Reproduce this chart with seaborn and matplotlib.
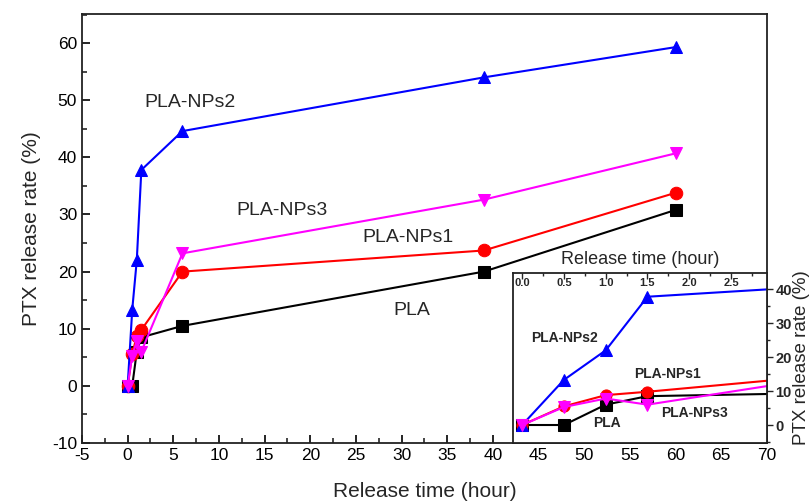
import numpy as np
import pandas as pd
import matplotlib
matplotlib.use("Agg")
import matplotlib.pyplot as plt
from matplotlib.ticker import MultipleLocator
import seaborn as sns

# release time (hour)
time_h = [0, 0.5, 1.0, 1.5, 6, 39, 60]

# PTX release rate (%)
pla = [0, 0, 6.0, 8.5, 10.5, 20.0, 30.8]
pla_nps1 = [0, 5.5, 8.8, 9.8, 20.0, 23.7, 33.8]
pla_nps2 = [0, 13.3, 22.0, 37.8, 44.6, 54.0, 59.3]
pla_nps3 = [0, 5.3, 7.8, 6.0, 23.2, 32.6, 40.7]

series_names = ["PLA", "PLA-NPs1", "PLA-NPs2", "PLA-NPs3"]
series_vals = [pla, pla_nps1, pla_nps2, pla_nps3]
colors = ["black", "#ff0000", "#0000ff", "#ff00ff"]
markers = ["s", "o", "^", "v"]


def draw_series(ax, msize):
    for name, vals, c, m in zip(series_names, series_vals, colors, markers):
        df = pd.DataFrame({"time": time_h, "rate": vals})
        sns.lineplot(data=df, x="time", y="rate", ax=ax, color=c, marker=m,
                     markersize=msize, markeredgecolor=c, linewidth=1.5,
                     sort=False)


sns.set_style("ticks")
plt.rcParams["font.family"] = ["Liberation Sans", "DejaVu Sans"]
plt.rcParams["axes.unicode_minus"] = False

fig = plt.figure(figsize=(8.11, 5.03), dpi=100)
ax = fig.add_axes([0.1011, 0.1193, 0.8446, 0.8529])
draw_series(ax, 9)

ax.set_xlim(-5, 70)
ax.set_ylim(-10, 65.1)
ax.xaxis.set_major_locator(MultipleLocator(5))
ax.xaxis.set_minor_locator(MultipleLocator(2.5))
ax.yaxis.set_major_locator(MultipleLocator(10))
ax.yaxis.set_minor_locator(MultipleLocator(5))
ax.tick_params(axis="both", which="major", direction="in", length=6, width=1.2,
               labelsize=12.5, colors="black")
ax.tick_params(axis="both", which="minor", direction="in", length=3.5, width=1.2)
for s in ax.spines.values():
    s.set_linewidth(1.3)
    s.set_color("#222222")
ax.set_xlabel("Release time (hour)", fontsize=15, labelpad=14)
ax.set_ylabel("PTX release rate (%)", fontsize=15, labelpad=8)

ax.text(6.8, 49.6, "PLA-NPs2", fontsize=14, ha="center", va="center")
ax.text(16.9, 30.7, "PLA-NPs3", fontsize=14, ha="center", va="center")
ax.text(30.7, 26.0, "PLA-NPs1", fontsize=14, ha="center", va="center")
ax.text(31.1, 13.2, "PLA", fontsize=14, ha="center", va="center")

# inset: first hours
ins = fig.add_axes([0.6325, 0.1193, 0.3132, 0.338])
ins.set_facecolor("white")
draw_series(ins, 8)
ins.set_xlim(-0.11, 2.93)
ins.set_ylim(-5.3, 44.8)
ins.xaxis.set_major_locator(MultipleLocator(0.5))
ins.xaxis.set_minor_locator(MultipleLocator(0.25))
ins.yaxis.set_major_locator(MultipleLocator(10))
ins.yaxis.set_minor_locator(MultipleLocator(5))
ins.xaxis.set_label_position("top")
ins.yaxis.set_label_position("right")
ins.tick_params(axis="x", which="both", top=True, labeltop=True, bottom=False,
                labelbottom=False, direction="in")
ins.tick_params(axis="x", which="major", length=4, width=1, pad=-11, labelsize=8)
ins.tick_params(axis="x", which="minor", length=2, width=1)
ins.tick_params(axis="y", which="both", right=True, labelright=True, left=False,
                labelleft=False, direction="out")
ins.tick_params(axis="y", which="major", length=4, width=1, labelsize=10.5, pad=2)
ins.tick_params(axis="y", which="minor", length=2, width=1)
for lab in ins.get_xticklabels() + ins.get_yticklabels():
    lab.set_fontweight("bold")
ins.set_xticks([0, 0.5, 1.0, 1.5, 2.0, 2.5])
ins.set_xticklabels(["0.0", "0.5", "1.0", "1.5", "2.0", "2.5"], fontweight="bold")
for s in ins.spines.values():
    s.set_linewidth(1.3)
    s.set_color("#222222")
ins.set_xlabel("Release time (hour)", fontsize=13, labelpad=3)
ins.set_ylabel("PTX release rate (%)", fontsize=13.5, labelpad=1)

ins.text(0.51, 25.7, "PLA-NPs2", fontsize=10, fontweight="bold", ha="center", va="center")
ins.text(1.74, 15.1, "PLA-NPs1", fontsize=10, fontweight="bold", ha="center", va="center")
ins.text(2.06, 3.55, "PLA-NPs3", fontsize=10, fontweight="bold", ha="center", va="center")
ins.text(1.01, 0.6, "PLA", fontsize=10, fontweight="bold", ha="center", va="center")

fig.savefig("out.png", dpi=100)
